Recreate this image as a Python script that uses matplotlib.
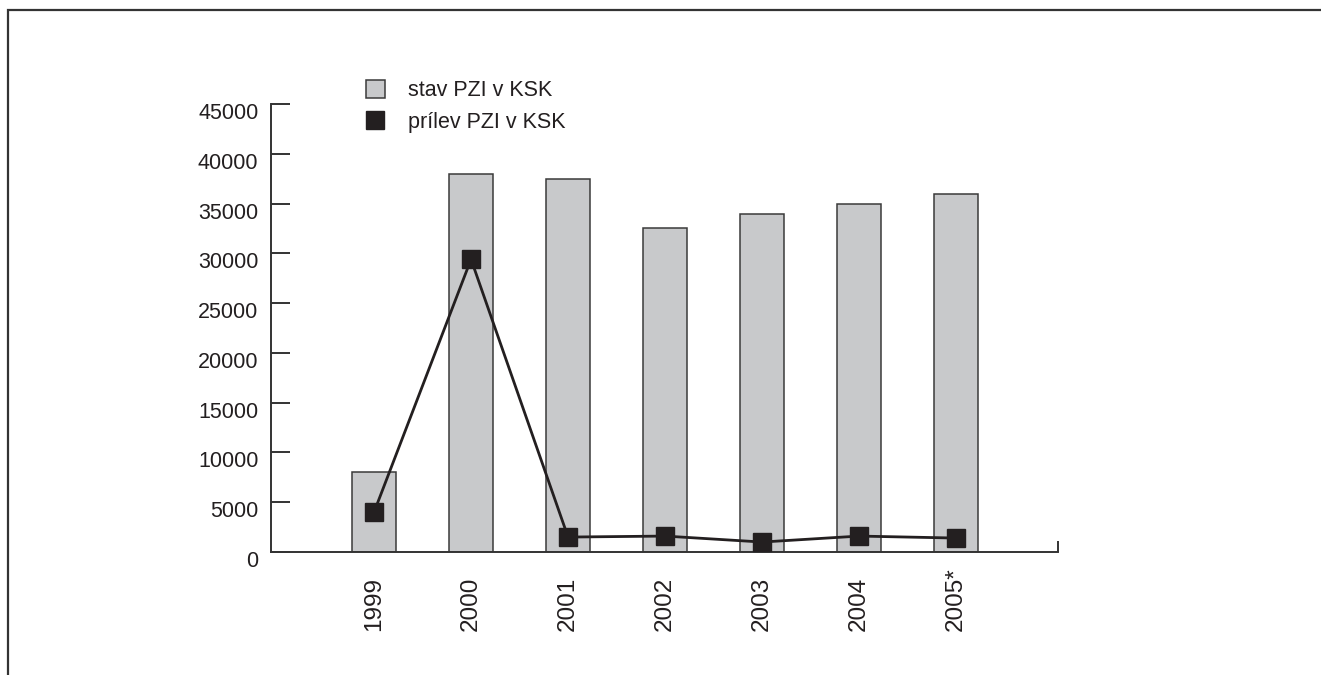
import numpy as np
import matplotlib
matplotlib.use('Agg')
import matplotlib.pyplot as plt
from matplotlib.patches import Patch, Rectangle
from matplotlib.lines import Line2D
from matplotlib.transforms import ScaledTranslation

plt.rcParams.update({
    'font.family': ['Liberation Sans', 'DejaVu Sans'],
    'font.size': 16,
    'text.color': '#231f20',
    'xtick.color': '#231f20',
    'ytick.color': '#231f20',
})

# údaje
years = ['1999', '2000', '2001', '2002', '2003', '2004', '2005*']
stav_pzi = [8000, 38000, 37500, 32500, 34000, 35000, 36000]
prilev_pzi = [4000, 29400, 1500, 1600, 1000, 1600, 1400]
yticks = [0, 5000, 10000, 15000, 20000, 25000, 30000, 35000, 40000, 45000]

W, H = 1321, 675
fig = plt.figure(figsize=(W / 100, H / 100), dpi=100, facecolor='white')

# rámček okolo grafu (vpravo a dole orezaný)
fig.add_artist(Rectangle((8 / W, -0.2), 1.2, 1.2 - 10 / H, transform=fig.transFigure,
                         fill=False, edgecolor='#333333', linewidth=1.6))

ax = fig.add_axes([271 / W, 1 - 552 / H, (1058 - 271) / W, (552 - 104) / H])
x = np.arange(len(years))

ax.bar(x, stav_pzi, width=0.454, color='#c8c9cb', edgecolor='#3a3a3a', linewidth=1.1,
       label='stav PZI v KSK', zorder=2)
ax.plot(x, prilev_pzi, color='#231f20', linewidth=2, marker='s', markersize=13,
        label='prílev PZI v KSK', zorder=3)

ax.set_xlim(-1.062, 7.05)
ax.set_ylim(0, 45000)

for s in ['top', 'right']:
    ax.spines[s].set_visible(False)
for s in ['left', 'bottom']:
    ax.spines[s].set_color('#333333')
    ax.spines[s].set_linewidth(1.4)

ax.set_yticks(yticks)
ax.set_yticklabels([str(v) for v in yticks])
ax.tick_params(axis='y', direction='in', length=14, width=1.4, color='#333333', pad=9, labelsize=15.5)
offset = ScaledTranslation(0, -7 / 100, fig.dpi_scale_trans)
for lab in ax.get_yticklabels():
    lab.set_transform(lab.get_transform() + offset)

ax.set_xticks(x)
ax.set_xticklabels(years, rotation=90, va='bottom', ha='center')
ax.tick_params(axis='x', length=0, pad=57, labelsize=17.5)
# malá značka na konci osi x
ax.set_xticks([7.05], minor=True)
ax.tick_params(axis='x', which='minor', direction='in', length=8, width=1.4, color='#333333')

bar_h = Patch(facecolor='#c8c9cb', edgecolor='#3a3a3a', linewidth=1.1)
line_h = Line2D([], [], color='#231f20', marker='s', markersize=13, linestyle='none')
fig.legend([bar_h, line_h], ['stav PZI v KSK', 'prílev PZI v KSK'],
           loc='upper left', bbox_to_anchor=(366 / W, 1 - 80 / H), frameon=False,
           fontsize=15.5, handlelength=0.88, handleheight=0.88, handletextpad=1.05,
           labelspacing=0.5, borderpad=0, borderaxespad=0)

fig.savefig('out.png', dpi=100, facecolor='white')
